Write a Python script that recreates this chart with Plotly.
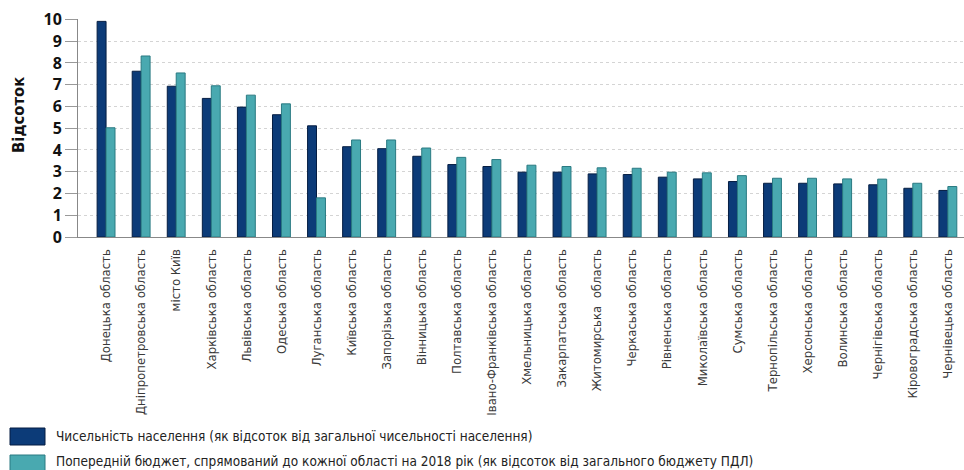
import plotly.graph_objects as go

regions = [
    "Донецька область", "Дніпропетровська область", "місто Київ", "Харківська область",
    "Львівська область", "Одеська область", "Луганська область", "Київська область",
    "Запорізька область", "Вінницька область", "Полтавська область", "Івано-Франківська область",
    "Хмельницька область", "Закарпатська область", "Житомирська  область", "Черкаська область",
    "Рівненська область", "Миколаївська область", "Сумська область", "Тернопільська область",
    "Херсонська область", "Волинська область", "Чернігівська область", "Кіровоградська область",
    "Чернівецька область",
]
population = [9.91, 7.62, 6.93, 6.37, 5.97, 5.62, 5.11, 4.15, 4.06, 3.71, 3.33, 3.24,
              2.98, 2.98, 2.90, 2.87, 2.75, 2.67, 2.55, 2.47, 2.47, 2.44, 2.40, 2.24, 2.14]
budget = [5.02, 8.32, 7.54, 6.95, 6.52, 6.12, 1.80, 4.46, 4.46, 4.09, 3.66, 3.56,
          3.30, 3.24, 3.18, 3.16, 2.98, 2.95, 2.82, 2.70, 2.70, 2.67, 2.66, 2.47, 2.32]
y_ticks = [0, 1, 2, 3, 4, 5, 6, 7, 8, 9, 10]

name_pop = "Чисельність населення (як відсоток від загальної чисельності населення)"
name_bud = "Попередній бюджет, спрямований до кожної області на 2018 рік (як відсоток від загального бюджету ПДЛ)"
y_title = "Відсоток"

C_POP, C_POP_EDGE = "#0c3b78", "#051d42"
C_BUD, C_BUD_EDGE = "#49a9b0", "#2a7a82"

W, H = 964, 470
ML, MR, MT, MB = 78, 0, 19, 233
PW, PH = W - ML - MR, H - MT - MB
NARROW = "DejaVu Sans Condensed, Open Sans, sans-serif"


def px(x):
    return (x - ML) / PW


def py(y):
    return (H - MB - y) / PH


fig = go.Figure()
fig.add_trace(go.Bar(x=regions, y=population, name=name_pop,
                     marker=dict(color=C_POP, line=dict(color=C_POP_EDGE, width=1))))
fig.add_trace(go.Bar(x=regions, y=budget, name=name_bud,
                     marker=dict(color=C_BUD, line=dict(color=C_BUD_EDGE, width=1))))

shapes = []
annotations = []
for i, (name, col, edge) in enumerate([(name_pop, C_POP, C_POP_EDGE), (name_bud, C_BUD, C_BUD_EDGE)]):
    top = 428 + i * 27
    shapes.append(dict(type="rect", xref="paper", yref="paper",
                       x0=px(10), x1=px(45), y0=py(top), y1=py(top + 17),
                       fillcolor=col, line=dict(color=edge, width=1)))
    annotations.append(dict(xref="paper", yref="paper", x=px(54), y=py(top + 7.5 - i * 1.5),
                            xanchor="left", yanchor="middle", showarrow=False, text=name,
                            font=dict(family=NARROW, size=13.5, color="#222")))

annotations.append(dict(xref="paper", yref="paper", x=px(18), y=py(115),
                        xanchor="center", yanchor="middle", showarrow=False, text=y_title,
                        textangle=-90,
                        font=dict(family=NARROW, size=16.5, color="#111", weight="bold")))

fig.update_layout(
    width=W, height=H,
    margin=dict(l=ML, r=MR, t=MT, b=MB, autoexpand=False),
    paper_bgcolor="white", plot_bgcolor="white",
    barmode="group", bargap=0.49, bargroupgap=0.0,
    font=dict(family="Open Sans", color="#333"),
    showlegend=False,
    shapes=shapes,
    annotations=annotations,
    xaxis=dict(range=[-0.8, 24.46], tickangle=-90, showline=True, linecolor="#888",
               linewidth=1, ticks="", tickfont=dict(family=NARROW, size=13, color="#3a3a3a"),
               ticklabelstandoff=6, showgrid=False, automargin=False),
    yaxis=dict(range=[0, 10.02], tickvals=y_ticks, showline=True, linecolor="#888",
               linewidth=1, ticks="outside", ticklen=12, tickcolor="#999",
               tickfont=dict(size=16, color="#111", family="Open Sans", weight="bold"),
               showgrid=True, gridcolor="#d4d4d4", griddash="dot", gridwidth=1,
               zeroline=False, automargin=False),
)
fig.write_html("out.html")
